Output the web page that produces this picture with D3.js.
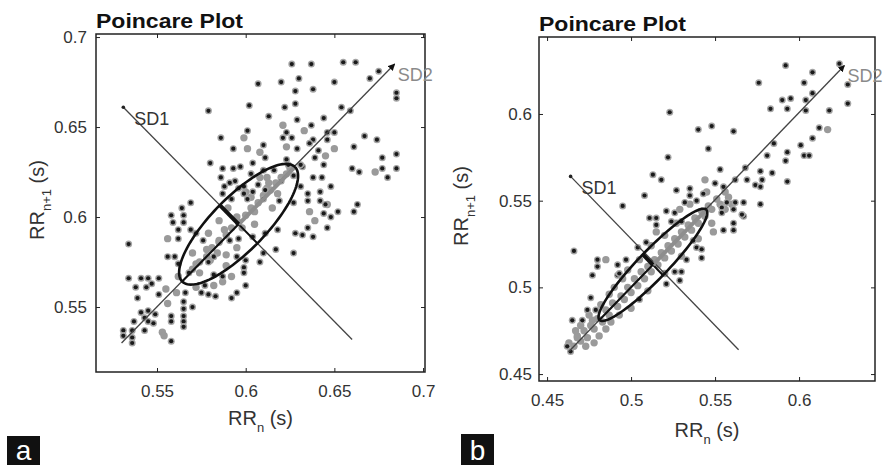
<!DOCTYPE html>
<html lang="en">
<head>
<meta charset="UTF-8">
<script src="https://d3js.org/d3.v7.min.js"></script>
<title>Poincare Plot</title>
<style>
  body { margin: 0; background: #fff; }
  text { font-family: "Liberation Sans", Arial, sans-serif; }
</style>
</head>
<body>
<script>
// ---- panel a ----
var xTicksA = [0.55, 0.6, 0.65, 0.7];
var xTickLabelsA = ["0.55", "0.6", "0.65", "0.7"];
var yTicksA = [0.55, 0.6, 0.65, 0.7];
var yTickLabelsA = ["0.55", "0.6", "0.65", "0.7"];

// dark points (RRn, RRn+1)
var darkA = [
  [0.626,0.685],[0.637,0.685],[0.655,0.686],[0.662,0.686],[0.670,0.677],[0.675,0.681],[0.685,0.669],[0.685,0.666],
  [0.607,0.674],[0.620,0.675],[0.630,0.677],[0.650,0.675],[0.638,0.671],[0.628,0.670],
  [0.579,0.659],[0.602,0.662],[0.622,0.661],[0.628,0.663],[0.654,0.661],[0.659,0.659],[0.613,0.656],[0.629,0.654],[0.644,0.655],[0.637,0.651],
  [0.601,0.648],[0.586,0.644],[0.623,0.647],[0.626,0.644],[0.621,0.644],[0.646,0.647],[0.650,0.647],[0.638,0.643],[0.646,0.643],[0.667,0.645],[0.674,0.643],
  [0.593,0.638],[0.610,0.640],[0.629,0.638],[0.636,0.641],[0.641,0.637],[0.661,0.639],[0.639,0.633],
  [0.580,0.630],[0.604,0.630],[0.611,0.633],[0.623,0.632],[0.644,0.629],[0.677,0.633],[0.685,0.635],
  [0.587,0.627],[0.593,0.627],[0.597,0.628],[0.632,0.628],[0.660,0.627],[0.664,0.625],[0.677,0.627],[0.685,0.627],[0.680,0.622],
  [0.586,0.622],[0.594,0.620],[0.631,0.617],[0.638,0.622],[0.643,0.622],[0.648,0.617],[0.588,0.617],[0.596,0.616],[0.635,0.613],[0.642,0.614],
  [0.642,0.609],[0.635,0.609],[0.645,0.607],[0.644,0.602],[0.648,0.600],[0.652,0.603],[0.661,0.603],[0.663,0.607],[0.635,0.594],[0.646,0.594],[0.632,0.590],
  [0.603,0.624],[0.610,0.626],[0.616,0.626],[0.624,0.629],[0.631,0.629],
  [0.591,0.619],[0.599,0.617],[0.607,0.618],[0.620,0.620],[0.627,0.623],
  [0.587,0.613],[0.599,0.613],[0.604,0.614],[0.611,0.615],[0.592,0.610],[0.601,0.610],[0.610,0.610],[0.619,0.609],[0.627,0.608],
  [0.569,0.608],[0.564,0.605],[0.558,0.601],[0.565,0.601],[0.559,0.597],[0.565,0.597],[0.562,0.593],[0.569,0.593],[0.562,0.588],[0.572,0.591],[0.576,0.587],
  [0.591,0.587],[0.596,0.588],[0.604,0.589],[0.611,0.591],[0.618,0.593],[0.628,0.591],[0.638,0.589],
  [0.534,0.585],[0.556,0.578],[0.560,0.578],[0.582,0.578],[0.595,0.578],[0.600,0.576],[0.610,0.580],[0.617,0.582],[0.627,0.580],
  [0.562,0.574],[0.579,0.575],[0.599,0.572],[0.608,0.575],
  [0.534,0.566],[0.541,0.566],[0.545,0.566],[0.551,0.566],[0.568,0.569],[0.582,0.568],[0.587,0.567],[0.599,0.569],
  [0.538,0.561],[0.544,0.561],[0.547,0.563],[0.577,0.562],[0.600,0.562],[0.595,0.558],
  [0.539,0.555],[0.551,0.557],[0.566,0.558],[0.575,0.558],[0.579,0.557],[0.583,0.556],[0.592,0.555],
  [0.565,0.553],[0.565,0.549],[0.570,0.550],[0.541,0.547],[0.545,0.548],[0.549,0.546],[0.543,0.544],[0.537,0.542],[0.545,0.542],[0.548,0.541],
  [0.558,0.545],[0.565,0.545],[0.558,0.542],[0.565,0.542],[0.565,0.539],
  [0.531,0.537],[0.536,0.537],[0.543,0.537],[0.531,0.534],[0.536,0.533],[0.558,0.531],[0.536,0.530]
];
// grey points
var greyA = [
  [0.645,0.634],[0.621,0.651],[0.633,0.648],[0.599,0.644],[0.601,0.638],[0.608,0.636],[0.623,0.639],[0.650,0.638],
  [0.612,0.622],[0.673,0.625],[0.646,0.607],[0.636,0.603],[0.639,0.598],[0.613,0.619],
  [0.556,0.588],[0.579,0.591],[0.585,0.587],[0.570,0.580],[0.578,0.582],[0.589,0.579],[0.572,0.574],[0.589,0.573],
  [0.562,0.567],[0.574,0.569],[0.592,0.567],[0.555,0.560],[0.582,0.562],[0.587,0.564],[0.572,0.561],[0.561,0.558],
  [0.556,0.552],[0.553,0.536],[0.554,0.534],
  [0.570,0.571],[0.574,0.575],[0.578,0.578],[0.581,0.583],[0.585,0.586],[0.589,0.590],[0.592,0.594],[0.596,0.597],
  [0.600,0.601],[0.603,0.605],[0.607,0.608],[0.610,0.612],[0.614,0.615],[0.617,0.619],[0.620,0.622],[0.623,0.624],
  [0.625,0.627],[0.580,0.576],[0.588,0.593],[0.595,0.600],[0.605,0.603],[0.612,0.616],[0.598,0.594],[0.584,0.580],
  [0.603,0.611],[0.618,0.613],[0.590,0.605],[0.600,0.614],[0.608,0.622],[0.585,0.598],[0.595,0.583],[0.605,0.596],[0.615,0.605]
];
var centerA = [0.596, 0.596];
var sdA = [0.015, 0.045];               // SD1, SD2
var sd1LineA = [[0.531, 0.661], [0.660, 0.532]];
var sd2LineA = [[0.530, 0.530], [0.684, 0.685]];

// ---- panel b ----
var xTicksB = [0.45, 0.5, 0.55, 0.6];
var xTickLabelsB = ["0.45", "0.5", "0.55", "0.6"];
var yTicksB = [0.45, 0.5, 0.55, 0.6];
var yTickLabelsB = ["0.45", "0.5", "0.55", "0.6"];

var darkB = [
  [0.592,0.628],[0.624,0.629],[0.576,0.618],[0.603,0.618],[0.608,0.624],[0.629,0.617],[0.629,0.606],
  [0.523,0.601],[0.590,0.608],[0.595,0.609],[0.583,0.603],[0.593,0.603],[0.604,0.608],[0.604,0.602],[0.608,0.612],[0.618,0.602],
  [0.540,0.591],[0.548,0.593],[0.561,0.590],[0.612,0.592],[0.546,0.580],[0.585,0.583],[0.608,0.586],[0.601,0.582],
  [0.581,0.576],[0.593,0.578],[0.592,0.573],[0.603,0.576],[0.606,0.576],[0.522,0.575],
  [0.553,0.568],[0.568,0.569],[0.584,0.566],[0.577,0.567],[0.593,0.561],[0.513,0.565],[0.518,0.562],
  [0.527,0.556],[0.535,0.557],[0.550,0.560],[0.555,0.558],[0.562,0.562],[0.569,0.562],[0.574,0.559],[0.578,0.562],[0.577,0.558],
  [0.508,0.553],[0.535,0.553],[0.543,0.554],[0.567,0.549],[0.577,0.548],[0.567,0.541],[0.495,0.547],
  [0.532,0.549],[0.539,0.550],[0.557,0.549],[0.562,0.549],[0.554,0.546],[0.554,0.543],[0.561,0.545],[0.566,0.542],
  [0.561,0.537],[0.561,0.533],[0.555,0.533],[0.511,0.540],[0.515,0.540],[0.521,0.544],[0.526,0.543],[0.515,0.536],
  [0.524,0.538],[0.530,0.538],[0.509,0.526],[0.537,0.527],[0.539,0.523],[0.542,0.522],[0.533,0.516],[0.542,0.517],
  [0.504,0.523],[0.497,0.516],[0.480,0.516],[0.480,0.512],[0.492,0.513],[0.477,0.507],[0.466,0.521],[0.492,0.507],
  [0.530,0.509],[0.529,0.504],[0.476,0.494],[0.474,0.487],[0.479,0.487],[0.465,0.481],[0.471,0.481],
  [0.462,0.466],[0.464,0.463],[0.505,0.493],[0.521,0.502],[0.526,0.509],[0.493,0.508]
];
var greyB = [
  [0.544,0.562],[0.529,0.545],[0.549,0.532],[0.485,0.516],[0.477,0.481],[0.468,0.471],[0.617,0.591],[0.515,0.532],
  [0.463,0.468],[0.466,0.466],[0.468,0.472],[0.470,0.469],[0.472,0.475],[0.474,0.471],[0.476,0.478],[0.478,0.476],
  [0.480,0.482],[0.483,0.480],[0.485,0.487],[0.487,0.484],[0.489,0.491],[0.492,0.489],[0.494,0.495],[0.496,0.493],
  [0.498,0.500],[0.500,0.497],[0.502,0.505],[0.504,0.501],[0.506,0.509],[0.508,0.505],[0.510,0.512],[0.512,0.509],
  [0.514,0.516],[0.516,0.513],[0.518,0.520],[0.520,0.517],[0.522,0.524],[0.524,0.521],[0.526,0.528],[0.528,0.525],
  [0.530,0.532],[0.532,0.529],[0.534,0.536],[0.536,0.533],[0.538,0.540],[0.540,0.537],[0.542,0.544],[0.544,0.541],
  [0.546,0.547],[0.548,0.545],[0.551,0.551],[0.553,0.548],[0.556,0.555],[0.558,0.552],
  [0.490,0.500],[0.498,0.510],[0.505,0.516],[0.512,0.524],[0.520,0.530],[0.527,0.537],[0.500,0.488],[0.510,0.498],
  [0.520,0.508],[0.530,0.518],[0.540,0.528],[0.548,0.537],[0.556,0.545],[0.470,0.478],[0.478,0.468],[0.485,0.476],
  [0.495,0.505],[0.535,0.548],[0.545,0.555],[0.560,0.548],
  [0.467,0.475],[0.473,0.466],[0.481,0.472],[0.475,0.484],[0.488,0.480],[0.482,0.490],[0.493,0.484],[0.487,0.496]
];
var centerB = [0.513, 0.513];
var sdB = [0.0085, 0.045];
var sd1LineB = [[0.464, 0.564], [0.564, 0.464]];
var sd2LineB = [[0.463, 0.463], [0.627, 0.628]];

var svg = d3.select("body").append("svg")
    .attr("width", 887)
    .attr("height", 465)
    .style("background", "#fff");

var defs = svg.append("defs");
defs.append("marker")
    .attr("id", "arrow")
    .attr("viewBox", "0 0 10 10")
    .attr("refX", 9).attr("refY", 5)
    .attr("markerWidth", 7).attr("markerHeight", 7)
    .attr("markerUnits", "userSpaceOnUse")
    .attr("orient", "auto")
    .append("path")
    .attr("d", "M0,0L10,5L0,10z")
    .attr("fill", "#111");

function drawPanel(o) {
    var g = svg.append("g");
    var x = d3.scaleLinear().domain(o.xDomain).range([o.left, o.right]);
    var y = d3.scaleLinear().domain(o.yDomain).range([o.bottom, o.top]);

    // axes, ticks pointing inward like matlab
    var styleAxis = function (sel) {
        sel.select(".domain").remove();
        sel.attr("font-size", 17).attr("font-family", "Liberation Sans, Arial, sans-serif").attr("color", "#222");
        sel.selectAll("text").attr("fill", "#333");
    };
    g.append("g")
        .attr("transform", "translate(0," + o.bottom + ")")
        .call(d3.axisBottom(x).tickValues(o.xTicks).tickFormat(function (d, i) { return o.xLabels[i]; })
            .tickSize(-4).tickSizeOuter(0).tickPadding(o.xPad))
        .call(styleAxis);
    g.append("g")
        .attr("transform", "translate(" + o.left + ",0)")
        .call(d3.axisLeft(y).tickValues(o.yTicks).tickFormat(function (d, i) { return o.yLabels[i]; })
            .tickSize(-4).tickSizeOuter(0).tickPadding(o.yPad))
        .call(styleAxis);
    g.append("g")
        .attr("transform", "translate(0," + o.top + ")")
        .call(d3.axisTop(x).tickValues(o.xTicks).tickFormat("").tickSize(-4).tickSizeOuter(0))
        .call(styleAxis);
    g.append("g")
        .attr("transform", "translate(" + o.right + ",0)")
        .call(d3.axisRight(y).tickValues(o.yTicks).tickFormat("").tickSize(-4).tickSizeOuter(0))
        .call(styleAxis);

    g.append("rect")
        .attr("x", o.left).attr("y", o.top)
        .attr("width", o.right - o.left).attr("height", o.bottom - o.top)
        .attr("fill", "none").attr("stroke", "#222").attr("stroke-width", 1.5);

    // points
    g.append("g").selectAll("circle")
        .data(o.grey).enter().append("circle")
        .attr("cx", function (d) { return x(d[0]); })
        .attr("cy", function (d) { return y(d[1]); })
        .attr("r", 3.7)
        .attr("fill", "#9a9a9a");
    var dk = g.append("g").selectAll("g")
        .data(o.dark).enter().append("g")
        .attr("transform", function (d) { return "translate(" + x(d[0]) + "," + y(d[1]) + ")"; });
    dk.append("circle").attr("r", 3.5).attr("fill", "#a4a4a4");
    dk.append("circle").attr("r", 2.1).attr("fill", "#1a1a1a");

    var line = d3.line().x(function (d) { return x(d[0]); }).y(function (d) { return y(d[1]); });

    // SD axis lines
    g.append("path").attr("d", line(o.sd1Line))
        .attr("stroke", "#444").attr("stroke-width", 1.3).attr("fill", "none");
    g.append("circle").attr("cx", x(o.sd1Line[0][0])).attr("cy", y(o.sd1Line[0][1]))
        .attr("r", 1.8).attr("fill", "#222");
    g.append("path").attr("d", line(o.sd2Line))
        .attr("stroke", "#444").attr("stroke-width", 1.3).attr("fill", "none")
        .attr("marker-end", "url(#arrow)");

    // ellipse
    var c = o.center, sd1 = o.sd[0], sd2 = o.sd[1], r2 = Math.SQRT1_2;
    var pt = function (a, b) { return [c[0] + (a - b) * r2, c[1] + (a + b) * r2]; };
    var ell = d3.range(0, 361, 3).map(function (t) {
        var rad = t * Math.PI / 180;
        return pt(sd2 * Math.cos(rad), sd1 * Math.sin(rad));
    });
    g.append("path").attr("d", line([pt(-sd2, 0), pt(sd2, 0)]))
        .attr("stroke", "#111").attr("stroke-width", 2).attr("fill", "none");
    g.append("path").attr("d", line([pt(0, -sd1), pt(0, sd1)]))
        .attr("stroke", "#111").attr("stroke-width", 2).attr("fill", "none");
    g.append("path").attr("d", line([c, pt(sd2, 0)]))
        .attr("stroke", "#8e8e8e").attr("stroke-width", 4).attr("fill", "none");
    g.append("path").attr("d", line([c, pt(0, sd1)]))
        .attr("stroke", "#111").attr("stroke-width", 4).attr("fill", "none");
    g.append("path").attr("d", line(ell))
        .attr("stroke", "#111").attr("stroke-width", 2.6).attr("fill", "none");

    // SD labels
    g.append("text").attr("x", x(o.sd1Line[0][0]) + 11).attr("y", y(o.sd1Line[0][1]) + 18)
        .attr("font-size", 18).attr("fill", "#333").text("SD1");
    g.append("text").attr("x", x(o.sd2Line[1][0]) + 3).attr("y", y(o.sd2Line[1][1]) + 17)
        .attr("font-size", 18).attr("fill", "#8a8a8a").text("SD2");

    // title
    g.append("text").attr("x", o.left).attr("y", o.top - 6)
        .attr("font-size", 21).attr("font-weight", "bold").attr("fill", "#111")
        .attr("textLength", 147).attr("lengthAdjust", "spacingAndGlyphs")
        .text("Poincare Plot");

    // axis labels
    var xl = g.append("text").attr("x", (o.left + o.right) / 2).attr("y", o.xLabelY)
        .attr("text-anchor", "middle").attr("font-size", 20).attr("fill", "#333");
    xl.append("tspan").text("RR");
    xl.append("tspan").attr("dy", 7).attr("font-size", 13).text("n");
    xl.append("tspan").attr("dy", -7).text(" (s)");

    var yl = g.append("text")
        .attr("transform", "translate(" + o.yLabelX + "," + o.yLabelMid + ") rotate(-90)")
        .attr("text-anchor", "middle").attr("font-size", 20).attr("fill", "#333");
    yl.append("tspan").text("RR");
    yl.append("tspan").attr("dy", 7).attr("font-size", 13).text("n+1");
    yl.append("tspan").attr("dy", -7).text(" (s)");

    // panel tag
    g.append("rect").attr("x", o.tag[0]).attr("y", o.tag[1]).attr("width", 33).attr("height", 465 - o.tag[1])
        .attr("fill", "#111");
    g.append("text").attr("x", o.tag[0] + 16.5).attr("y", 460)
        .attr("text-anchor", "middle").attr("font-size", 28).attr("fill", "#fff").text(o.tagText);
}

drawPanel({
    left: 96, right: 425, top: 34, bottom: 372,
    xDomain: [0.5156, 0.7011], yDomain: [0.5139, 0.7017],
    xTicks: xTicksA, xLabels: xTickLabelsA, yTicks: yTicksA, yLabels: yTickLabelsA,
    xPad: 13, yPad: 9,
    dark: darkA, grey: greyA, center: centerA, sd: sdA, sd1Line: sd1LineA, sd2Line: sd2LineA,
    xLabelY: 425, yLabelX: 44, yLabelMid: 200,
    tag: [7, 436], tagText: "a"
});

drawPanel({
    left: 539, right: 875, top: 37, bottom: 381,
    xDomain: [0.4452, 0.6452], yDomain: [0.446, 0.6444],
    xTicks: xTicksB, xLabels: xTickLabelsB, yTicks: yTicksB, yLabels: yTickLabelsB,
    xPad: 13, yPad: 7,
    dark: darkB, grey: greyB, center: centerB, sd: sdB, sd1Line: sd1LineB, sd2Line: sd2LineB,
    xLabelY: 437, yLabelX: 468, yLabelMid: 206,
    tag: [461, 434], tagText: "b"
});
</script>
</body>
</html>
